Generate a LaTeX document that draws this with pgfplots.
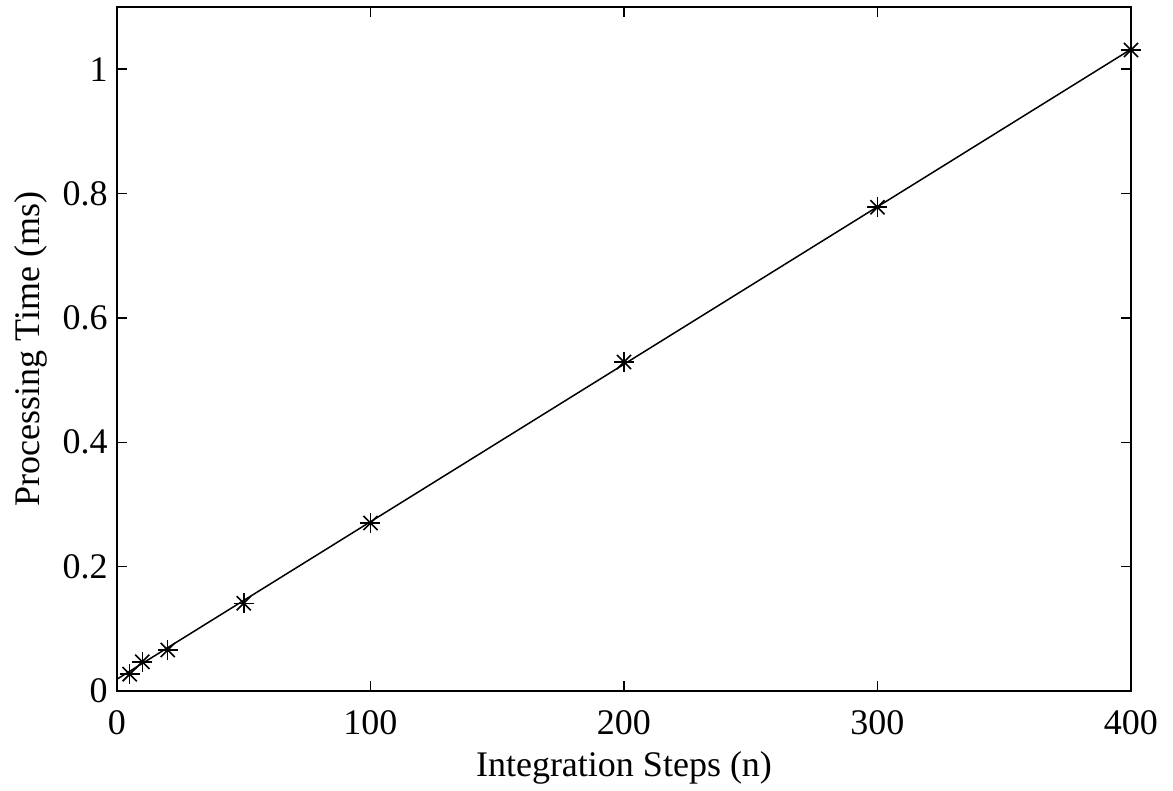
\documentclass[border=0pt]{standalone}
\usepackage{fontspec}
\setmainfont{Liberation Serif}
\usepackage{pgfplots}
\pgfplotsset{compat=1.18}
\begin{document}
\begin{tikzpicture}
\useasboundingbox (-58.5pt,-50pt) rectangle (528pt,345.5pt);
\begin{axis}[
  at={(0pt,0pt)}, anchor=south west,
  scale only axis, width=507pt, height=342pt,
  xmin=0, xmax=400, ymin=0, ymax=1.1,
  xtick={0,100,200,300,400},
  ytick={0,0.2,0.4,0.6,0.8,1},
  tick align=inside, major tick length=5pt,
  xtick pos=both, ytick pos=both,
  axis line style={line width=0.8pt},
  every tick/.style={black, line width=0.7pt},
  font=\fontsize{18}{21}\selectfont,
  /pgf/number format/assume math mode=true,
  xticklabel style={anchor=base, inner sep=0pt, yshift=-22pt},
  yticklabel style={anchor=east, inner sep=0pt, xshift=-4.5pt},
  xlabel={Integration Steps (n)},
  ylabel={Processing Time (ms)},
  xlabel style={at={(axis description cs:0.5,-0.125)}, anchor=base, inner sep=0pt},
  ylabel style={at={(axis description cs:-0.0769,0.5)}, anchor=base, inner sep=0pt, rotate=0},
]
\addplot[black, line width=0.75pt, no marks] coordinates {(0,0.019) (400,1.032)};
\addplot[black, line width=0.8pt, only marks, mark=+, mark size=5pt] coordinates {
(5,0.027) (10,0.047) (20,0.066) (50,0.141) (100,0.270) (200,0.529) (300,0.778) (400,1.031)};
\addplot[black, line width=0.8pt, only marks, mark=x, mark size=5pt] coordinates {
(5,0.027) (10,0.047) (20,0.066) (50,0.141) (100,0.270) (200,0.529) (300,0.778) (400,1.031)};
\end{axis}
\end{tikzpicture}
\end{document}
